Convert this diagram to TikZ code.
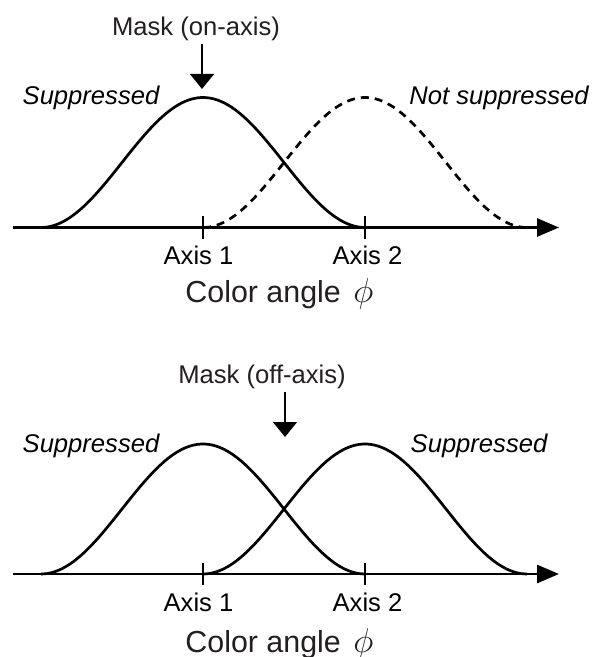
\documentclass[tikz,border=0pt]{standalone}
\usepackage{fontspec}
\setmainfont{Liberation Sans}
\usetikzlibrary{arrows.meta}
\definecolor{inkdark}{RGB}{35,31,32}

\begin{document}
\begin{tikzpicture}[x=0.5pt,y=-0.5pt,
      bump/.style={line width=1.35pt, line join=round},
      bumpdash/.style={bump, dash pattern=on 4pt off 3pt},
      axisline/.style={line width=1.4pt, -{Triangle[length=11pt,width=9pt]}},
      axistick/.style={line width=0.8pt},
      maskarrow/.style={line width=0.6pt, -{Triangle[length=7.5pt,width=12pt]}},
      lbl/.style={font=\fontsize{12.8}{15}\selectfont, anchor=base, inner sep=0pt},
      sidelbl/.style={lbl, font=\fontsize{12.8}{15}\selectfont\itshape},
      anglelbl/.style={lbl, anchor=base west, font=\fontsize{15.2}{18}\selectfont, text=inkdark}
    ]
    \path[use as bounding box, fill=white] (0,0) rectangle (593,657);

    % top panel: mask on axis 1
    \node[lbl, text=inkdark] (maskon) at (196,36) {Mask (on-axis)};
    \coordinate (maskontop) at (202,44);
    \coordinate (maskontip) at (202,89);
    \draw[maskarrow] (maskontop) -- (maskontip);

    \node[sidelbl] (supone) at (91,105) {Suppressed};
    \node[sidelbl] (notsup) at (499,105) {Not suppressed};

    \draw[bump] plot[smooth, samples=61, domain=-162:162]
      ({203+\x},{227.5-65*(1+cos(\x*10/9))});
    \draw[bumpdash] plot[smooth, samples=61, domain=-162:162]
      ({365+\x},{227.5-65*(1+cos(\x*10/9))});

    \coordinate (topstart) at (13,227.5);
    \coordinate (topend) at (559,227.5);
    \draw[axisline] (topstart) -- (topend);
    \draw[axistick] (203,216) -- (203,239);
    \draw[axistick] (365,216) -- (365,239);

    \node[lbl] (topaxisone) at (198.5,264.5) {Axis 1};
    \node[lbl] (topaxistwo) at (367.5,264.5) {Axis 2};
    \node[anglelbl] (topangle) at (185,302.5) {Color angle\hspace{2pt} {\fontsize{18}{18}\selectfont$\phi$}};

    % bottom panel: mask between the axes
    \node[lbl, text=inkdark] (maskoff) at (262,383) {Mask (off-axis)};
    \coordinate (maskofftop) at (285,392);
    \coordinate (maskofftip) at (285,437);
    \draw[maskarrow] (maskofftop) -- (maskofftip);

    \node[sidelbl] (suptwo) at (91,452) {Suppressed};
    \node[sidelbl] (supthree) at (479,452) {Suppressed};

    \draw[bump] plot[smooth, samples=61, domain=-162:162]
      ({203+\x},{574-65*(1+cos(\x*10/9))});
    \draw[bump] plot[smooth, samples=61, domain=-162:162]
      ({365+\x},{574-65*(1+cos(\x*10/9))});

    \coordinate (botstart) at (13,574);
    \coordinate (botend) at (559,574);
    \draw[axisline] (botstart) -- (botend);
    \draw[axistick] (203,563) -- (203,585);
    \draw[axistick] (365,563) -- (365,585);

    \node[lbl] (botaxisone) at (198.5,611) {Axis 1};
    \node[lbl] (botaxistwo) at (367.5,611) {Axis 2};
    \node[anglelbl] (botangle) at (185,652) {Color angle\hspace{2pt} {\fontsize{18}{18}\selectfont$\phi$}};
  \end{tikzpicture}
\end{document}
